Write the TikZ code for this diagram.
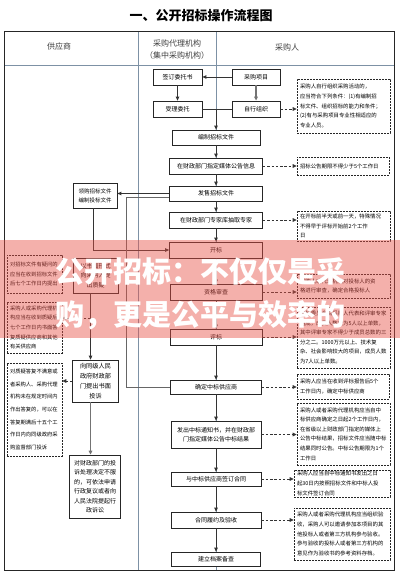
\documentclass[tikz,border=0pt]{standalone}
\usepackage{fontspec}
\setmainfont{Noto Sans CJK SC}
\usetikzlibrary{arrows.meta}
\newcommand\myfs[2]{\fontsize{#1}{#2}\selectfont}
\definecolor{colline}{RGB}{125,145,165}
\definecolor{bannercol}{RGB}{232,80,70}
\tikzset{
 box/.style={draw=black!85, line width=0.8pt, fill=white, align=center, inner sep=1pt, font=\myfs{6}{9.5}},
 lbox/.style={box, font=\myfs{6.2}{10}},
 note/.style={draw=black!85, line width=0.6pt, dash pattern=on 1.8pt off 1.2pt, fill=white, align=left, inner xsep=3pt, inner ysep=1pt, font=\myfs{5.4}{9.6}},
 lnote/.style={note, font=\myfs{5.3}{9.6}},
 arr/.style={draw=black!80, line width=0.9pt, -{Triangle[length=4pt,width=3.6pt]}},
 garr/.style={arr, draw=black!55, line width=1.3pt},
 darr/.style={draw=black!80, line width=0.8pt, dash pattern=on 2.5pt off 1.8pt, -{Triangle[length=4pt,width=3.6pt]}},
 ln/.style={draw=black!80, line width=0.8pt},
 hdr/.style={font=\myfs{8}{10}, text=black!75},
}
\begin{document}
\begin{tikzpicture}[x=1pt,y=-1pt]
\useasboundingbox (0,0) rectangle (400,580);
\fill[white] (0,0) rectangle (400,580);
\node[font=\myfs{13}{15}\bfseries] (title) at (201,16) {一、公开招标操作流程图};
% table
\draw[colline, line width=0.7pt] (4.5,65) -- (394,65);
\draw[colline, line width=0.7pt] (138,32) -- (138,570);
\draw[colline, line width=0.7pt] (216,32) -- (216,570);
\draw[black!85, line width=1pt] (4.5,32) rectangle (394,570);
\node[hdr] (h1) at (59,46) {供应商};
\node[hdr] (h2a) at (177,43) {采购代理机构};
\node[hdr] (h2b) at (177,55) {（集中采购机构）};
\node[hdr] (h3) at (287,47) {采购人};
% middle / right top
\node[box, minimum width=49pt, minimum height=16pt] (A) at (177.5,77) {签订委托书};
\node[box, minimum width=49pt, minimum height=16pt] (B) at (177.5,109) {受理委托};
\node[box, minimum width=48pt, minimum height=16pt] (PR) at (256,77) {采购项目};
\node[box, minimum width=48pt, minimum height=16pt] (ZX) at (256,109) {自行组织};
\node[note, text width=87pt, minimum height=54pt] (N1) at (343.5,106) {采购人自行组织采购活动的，\\应当符合下列条件：(1)有编制招\\标文件、组织招标的能力和条件；\\(2)有与采购项目专业性相适应的\\专业人员。};
\node[box, minimum width=88pt, minimum height=15pt] (C) at (216,137.5) {编制招标文件};
\node[box, minimum width=93pt, minimum height=16pt] (D) at (216,166) {在财政部门指定媒体公告信息};
\node[note, text width=86pt, minimum height=18pt] (N2) at (343,166) {招标公告期限不得少于5个工作日};
\node[box, minimum width=93pt, minimum height=15pt] (E) at (216,193.5) {发售招标文件};
\node[box, minimum width=44pt, minimum height=25pt, font=\myfs{5.5}{9}] (F) at (95,195.5) {领购招标文件\\编制投标文件};
\node[box, minimum width=93pt, minimum height=16pt] (G) at (216,220) {在财政部门专家库抽取专家};
\node[note, text width=87pt, minimum height=30pt] (N3) at (343.5,226) {在开标前半天或前一天，特殊情况\\不得早于评标开始前2个工作\\日};
\node[box, minimum width=93pt, minimum height=16pt] (H) at (216,250) {开标};
\node[box, minimum width=92pt, minimum height=16pt] (I) at (216,292) {资格审查};
\node[note, text width=87pt, minimum height=24pt] (N4) at (343.5,286) {采购人或代理机构对投标人的资\\格进行审查，确定合格投标人};
\node[box, minimum width=92pt, minimum height=16pt] (J) at (216,337) {评标};
\node[note, text width=87pt, minimum height=61pt] (N5) at (343.5,337.5) {评标委员会由采购人代表和评审专家\\组成，成员人数应为5人以上单数，\\其中评审专家不得少于成员总数的三\\分之二。1000万元以上、技术复\\杂、社会影响较大的项目，成员人数\\为7人以上单数。};
\node[box, minimum width=91pt, minimum height=14pt] (K) at (216,387) {确定中标供应商};
\node[note, text width=86pt, minimum height=25pt] (N6) at (343,386.5) {采购人应当在收到评标报告后5个\\工作日内，确定中标供应商};
\node[box, minimum width=90pt, minimum height=27pt] (L) at (216,434.5) {发出中标通知书，并在财政部\\门指定媒体公告中标结果};
\node[note, text width=87pt, minimum height=62pt] (N7) at (343.5,434) {采购人或者采购代理机构应当自中\\标供应商确定之日起2个工作日内，\\在省级以上财政部门指定的媒体上\\公告中标结果，招标文件应当随中标\\结果同时公告。中标公告期限为1个\\工作日};
\node[box, minimum width=90pt, minimum height=14pt] (M) at (216,479) {与中标供应商签订合同};
\node[note, text width=90pt, minimum height=27pt] (N8) at (342,483.5) {采购人应当自中标通知书发出之日\\起30日内按照招标文件和中标人投\\标文件签订合同};
\node[box, minimum width=90pt, minimum height=16pt] (N) at (216,520) {合同履约及验收};
\node[note, text width=90pt, minimum height=52pt] (N9) at (342,534) {采购人或者采购代理机构应当组织验\\收，采购人可以邀请参加本项目的其\\他投标人或者第三方机构参与验收。\\参与验收的投标人或者第三方机构的\\意见作为验收书的参考资料存档。};
\node[box, minimum width=89pt, minimum height=14pt] (O) at (216,559) {建立档案备查};
% left column
\node[lnote, text width=49pt, minimum height=38pt] (P1) at (34.5,274) {对招标文件有疑问的\\应当在收到招标文件\\后七个工作日内提出};
\node[lbox, minimum width=45pt, minimum height=35pt, font=\myfs{6}{9.5}] (Q) at (95.5,275.5) {以书面形式\\向采购人提\\出质疑};
\node[lnote, text width=49pt, minimum height=51pt] (P2) at (34.5,327.5) {采购人或采购代理机\\构应当在收到质疑后\\七个工作日内书面答\\复质疑供应商和其他\\有关供应商};
\node[lbox, minimum width=46pt, minimum height=42pt] (R) at (95.5,381) {向同级人民\\政府财政部\\门提出书面\\投诉};
\node[lnote, text width=49pt, minimum height=93pt, font=\myfs{5.3}{12.6}] (P3) at (34.5,409.5) {对质疑答复不满意或\\者采购人、采购代理\\机构未在规定时间内\\作出答复的，可以在\\答复期满后十五个工\\作日内向同级政府采\\购监督部门投诉};
\node[lbox, minimum width=51pt, minimum height=63pt, font=\myfs{6}{9.5}] (S) at (95,486.5) {对财政部门的投\\诉处理决定不服\\的，可依法申请\\行政复议或者向\\人民法院提起行\\政诉讼};
% connectors
\draw[arr] (PR.west) -- (A.east);
\draw[arr] (A.south) -- (B.north);
\draw[garr] (PR.south) -- (ZX.north);
\draw[darr] (ZX.east) -- (ZX.east -| N1.west);
\coordinate (j1) at (B.east -| C.north);
\draw[ln] (B.east) -- (j1);
\draw[ln] (ZX.west) -- (ZX.west -| C.north);
\draw[arr] (j1) -- (C.north);
\foreach \a/\b in {C/D,D/E,E/G,G/H,H/I,I/J,J/K,K/L,L/M,M/N,N/O}
  \draw[arr] (\a.south) -- (\b.north);
\foreach \a/\b in {D/N2,G/N3,I/N4,J/N5,K/N6,L/N7,M/N8,N/N9}
  \draw[darr] (\a.east) -- (\a.east -| \b.west);
\draw[arr] (E.west) -- (E.west -| F.east);
\draw[arr] ([xshift=-2pt]F.south) |- (H.west);
\draw[ln, draw=black!60] ([yshift=-4pt]E.west) -- ++(-43,0) |- (K.west);
\coordinate (qa) at ([xshift=-5pt]Q.south);
\coordinate (ra) at ([xshift=-5pt]R.north);
\draw[arr] (qa) -- (ra);
\coordinate (p2in) at ([yshift=9.5pt]P2.east);
\draw[darr] (qa |- p2in) -- (p2in);
\draw[darr] (R.west) -- (R.west -| P3.east);
\coordinate (rb) at ([xshift=-5pt]R.south);
\draw[garr] (rb) -- (rb |- S.north);
% banner
\fill[bannercol, opacity=0.45] (0,240) rectangle (400,338);
\node[text=white, font=\myfs{29}{34}\bfseries] (b1) at (200,272) {公开招标：不仅仅是采};
\node[text=white, font=\myfs{29}{34}\bfseries] (b2) at (200,315) {购，更是公平与效率的};
\end{tikzpicture}
\end{document}
